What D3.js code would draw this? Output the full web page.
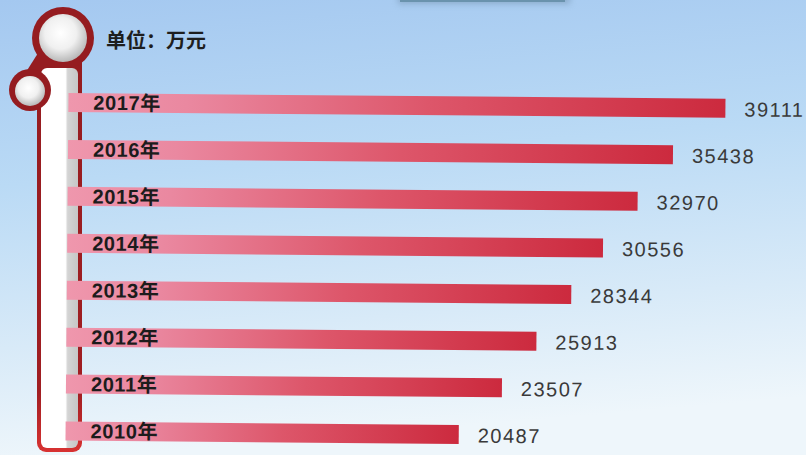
<!DOCTYPE html>
<html><head><meta charset="utf-8">
<script src="https://cdn.jsdelivr.net/npm/d3@7/dist/d3.min.js"></script>
<style>html,body{margin:0;padding:0;overflow:hidden;background:#fff}</style>
</head><body>
<script>
const years = ["2017年","2016年","2015年","2014年","2013年","2012年","2011年","2010年"];
const values = [39111, 35438, 32970, 30556, 28344, 25913, 23507, 20487];
const unitLabel = "单位：万元";

const W = 806, H = 455;
const svg = d3.select("body").append("svg").attr("width", W).attr("height", H);
const defs = svg.append("defs");

const bg = defs.append("linearGradient").attr("id","bg").attr("x1",0).attr("y1",0).attr("x2",0.15).attr("y2",1);
bg.append("stop").attr("offset","0%").attr("stop-color","#a4c8f0");
bg.append("stop").attr("offset","40%").attr("stop-color","#badaf5");
bg.append("stop").attr("offset","75%").attr("stop-color","#d8eaf8");
bg.append("stop").attr("offset","100%").attr("stop-color","#eef6fb");
svg.append("rect").attr("width",W).attr("height",H).attr("fill","url(#bg)");

// small top element
const blur = defs.append("filter").attr("id","blur").attr("x","-20%").attr("y","-200%").attr("width","140%").attr("height","500%");
blur.append("feGaussianBlur").attr("stdDeviation",3);
svg.append("rect").attr("x",398).attr("y",-6).attr("width",172).attr("height",10).attr("fill","#6f8fa8").attr("opacity",0.5).attr("filter","url(#blur)");
svg.append("rect").attr("x",400).attr("y",-4).attr("width",165).attr("height",6).attr("fill","#6a93ad");
svg.append("rect").attr("x",420).attr("y",-4).attr("width",140).attr("height",4).attr("fill","#cfe3f1");

// bar gradient
const bgGrad = defs.append("linearGradient").attr("id","bar").attr("x1",0).attr("y1",0).attr("x2",1).attr("y2",0);
bgGrad.append("stop").attr("offset","0%").attr("stop-color","#ef97ad");
bgGrad.append("stop").attr("offset","18%").attr("stop-color","#ea88a0");
bgGrad.append("stop").attr("offset","55%").attr("stop-color","#dd566a");
bgGrad.append("stop").attr("offset","100%").attr("stop-color","#cc2a3e");

// thermometer decoration
const dark = "#951c20";
const tubeStroke = defs.append("linearGradient").attr("id","tubeStroke").attr("x1",0).attr("y1",0).attr("x2",0).attr("y2",1);
tubeStroke.append("stop").attr("offset","0%").attr("stop-color",dark);
tubeStroke.append("stop").attr("offset","85%").attr("stop-color","#a01e22");
tubeStroke.append("stop").attr("offset","100%").attr("stop-color","#d83232");
const tubeFill = defs.append("linearGradient").attr("id","tubeFill").attr("x1",0).attr("y1",0).attr("x2",1).attr("y2",0);
tubeFill.append("stop").attr("offset","0%").attr("stop-color","#ffffff");
tubeFill.append("stop").attr("offset","66%").attr("stop-color","#ffffff");
tubeFill.append("stop").attr("offset","72%").attr("stop-color","#d4d4d4");
tubeFill.append("stop").attr("offset","100%").attr("stop-color","#c6c6c6");
const ball = defs.append("radialGradient").attr("id","ball").attr("cx","45%").attr("cy","40%").attr("r","60%");
ball.append("stop").attr("offset","0%").attr("stop-color","#ffffff");
ball.append("stop").attr("offset","55%").attr("stop-color","#f0f0f0");
ball.append("stop").attr("offset","100%").attr("stop-color","#b8b8b8");

const deco = svg.append("g");
deco.append("rect").attr("x",37).attr("y",50).attr("width",45).attr("height",402).attr("rx",9)
  .attr("fill","url(#tubeStroke)");
deco.append("line").attr("x1",63).attr("y1",38).attr("x2",30).attr("y2",90)
  .attr("stroke",dark).attr("stroke-width",26);
deco.append("circle").attr("cx",63).attr("cy",38).attr("r",31).attr("fill",dark);
deco.append("rect").attr("x",41).attr("y",68).attr("width",37).attr("height",380).attr("rx",6)
  .attr("fill","url(#tubeFill)");
deco.append("circle").attr("cx",30).attr("cy",90).attr("r",21).attr("fill",dark);
deco.append("circle").attr("cx",30).attr("cy",91).attr("r",15).attr("fill","url(#ball)");
deco.append("circle").attr("cx",63).attr("cy",38).attr("r",24).attr("fill","url(#ball)");

svg.append("text").attr("x",106).attr("y",48).text(unitLabel)
  .attr("font-family","'Noto Sans CJK SC', sans-serif").attr("font-weight","bold")
  .attr("font-size",20).attr("fill","#1e1e1e");

// chart
const x = d3.scaleLinear().domain([0, d3.max(values)]).range([170, 724]);
const y = d3.scalePoint().domain(years).range([102.5, 431]);
const barH = 19, barStart = 67;

const g = svg.append("g").attr("transform","rotate(0.5 67 267)");
const data = years.map((yr,i)=>({yr, v: values[i]}));

g.selectAll("rect.bar").data(data).join("rect").attr("class","bar")
  .attr("x", barStart).attr("y", d=>y(d.yr)-barH/2)
  .attr("width", d=>x(d.v)-barStart).attr("height", barH)
  .attr("fill","url(#bar)");

g.selectAll("text.yr").data(data).join("text").attr("class","yr")
  .attr("x", 92).attr("y", d=>y(d.yr)+7).text(d=>d.yr)
  .attr("font-family","'Liberation Sans', 'Noto Sans CJK SC', sans-serif")
  .attr("font-weight","bold").attr("font-size",20).attr("letter-spacing",0.6)
  .attr("fill","#1c1c1c");

g.selectAll("text.val").data(data).join("text").attr("class","val")
  .attr("x", d=>x(d.v)+19).attr("y", d=>y(d.yr)+8).text(d=>d.v)
  .attr("font-family","'Liberation Sans', Arial, sans-serif")
  .attr("font-size",20).attr("letter-spacing",1.5)
  .attr("fill","#3a3a3a");
</script>
</body></html>
